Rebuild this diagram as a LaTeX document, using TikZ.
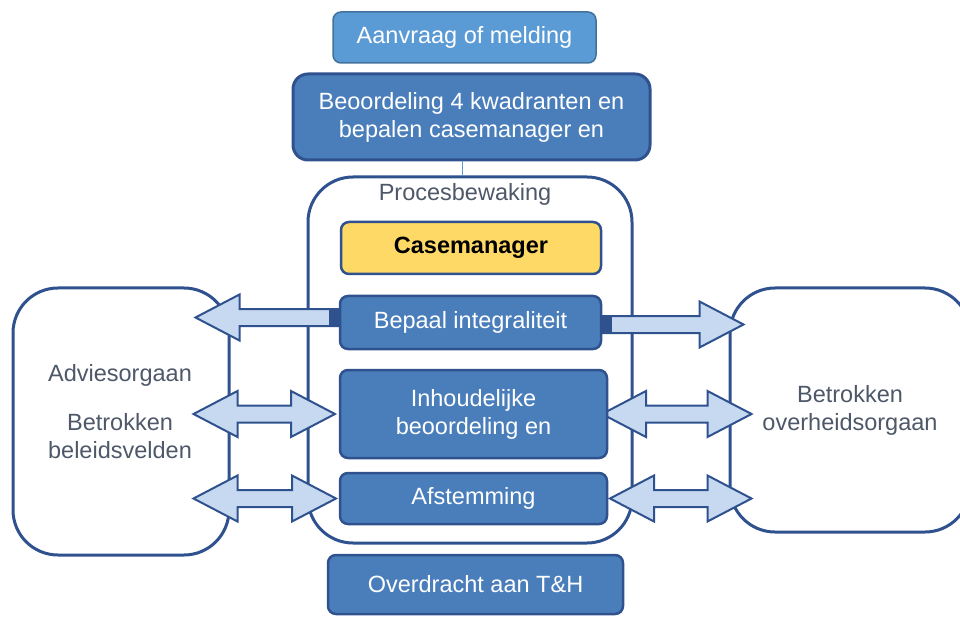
\documentclass[tikz,border=0pt]{standalone}
\usepackage{fontspec}
\setmainfont{Liberation Sans}
\usepackage{tikz}
\usetikzlibrary{calc}
\usetikzlibrary{positioning}

\definecolor{donkerblauw}{RGB}{47,82,143}
\definecolor{vakblauw}{RGB}{74,126,187}
\definecolor{lichtblauw}{RGB}{91,155,213}
\definecolor{randlicht}{RGB}{65,113,156}
\definecolor{pijlblauw}{RGB}{198,217,240}
\definecolor{geel}{RGB}{255,217,102}
\definecolor{grijstekst}{RGB}{78,88,104}

\newcommand{\koplengte}{44pt}
\newcommand{\kophoogte}{23pt}
\newcommand{\schacht}{8.5pt}

\tikzset{
	tekst/.style={font=\fontsize{23.5}{28}\selectfont,align=center},
	vak/.style={tekst,draw=donkerblauw,line width=2.5pt,fill=vakblauw,text=white,rounded corners=8pt,inner sep=0pt},
	kader/.style={draw=donkerblauw,line width=3pt,fill=white,rounded corners=45pt,inner sep=0pt},
	pijl/.style={draw=donkerblauw,fill=pijlblauw,line width=2pt,line join=miter},
	label/.style={tekst,text=grijstekst}
}

% enkele blokpijl: #1 staart, #2 punt
\newcommand{\enkelpijl}[2]{%
	\draw[pijl] let \p1=(#1), \p2=(#2), \p3=($(#2)!\koplengte!(#1)$) in
	(\x1,\y1+\schacht) -- (\x3,\y1+\schacht) -- (\x3,\y1+\kophoogte) -- (\x2,\y1)
	-- (\x3,\y1-\kophoogte) -- (\x3,\y1-\schacht) -- (\x1,\y1-\schacht) -- cycle;
	\fill[donkerblauw] let \p1=(#1), \p5=($(#1)!11pt!(#2)$) in
	(\x1,\y1+\schacht+1pt) rectangle (\x5,\y1-\schacht-1pt);}
% dubbele blokpijl tussen #1 en #2
\newcommand{\dubbelpijl}[2]{%
	\draw[pijl] let \p1=(#1), \p2=(#2), \p3=($(#1)!\koplengte!(#2)$), \p4=($(#2)!\koplengte!(#1)$) in
	(\x1,\y1) -- (\x3,\y1+\kophoogte) -- (\x3,\y1+\schacht) -- (\x4,\y1+\schacht) -- (\x4,\y1+\kophoogte)
	-- (\x2,\y1) -- (\x4,\y1-\kophoogte) -- (\x4,\y1-\schacht) -- (\x3,\y1-\schacht) -- (\x3,\y1-\kophoogte) -- cycle;}

\begin{document}
\begin{tikzpicture}[x=1pt,y=-1pt]
		\clip (0,0) rectangle (960,617);
		\useasboundingbox (0,0) rectangle (960,617);
		% bovenste vakken
		\node[vak,fill=lichtblauw,draw=randlicht,line width=1.5pt,minimum width=263pt,minimum height=51pt] (aanvraag) at (464.5,37.5) {Aanvraag of melding};
		\node[vak,line width=3pt,rounded corners=15pt,minimum width=357pt,minimum height=86pt] (beoordeling) at (471.5,117) {Beoordeling 4 kwadranten en\\bepalen casemanager en};
		% procesbewaking
		\node[kader,minimum width=324pt,minimum height=366pt] (proces) at (470,360) {};
		\draw[lichtblauw,line width=1pt] (beoordeling.south -| 462,0) -- (proces.north -| 462,0);
		\node[label] (proceslabel) at (465,194) {Procesbewaking};
		% zijvakken
		\node[kader,minimum width=216pt,minimum height=267pt] (advies) at (121,421.5) {};
		\node[label] (adviestekst) at (120,375) {Adviesorgaan};
		\node[label] (beleidtekst) at (120,436) {Betrokken\\beleidsvelden};
		\node[kader,label,minimum width=240pt,minimum height=244pt] (overheid) at (850,410) {Betrokken\\overheidsorgaan};
		% posities van de vakken in het kader
		\coordinate (pbepaal) at (470.5,322.5);
		\coordinate (pinh) at (473.5,414);
		\coordinate (pafst) at (473.5,498.5);
		\coordinate (kl) at (340,0);
		\coordinate (kr1) at (601,0);
		\coordinate (kr2) at (607,0);
		% pijlen
		\coordinate (t1) at ($(kl |- pbepaal)+(0,-5)$);
		\coordinate (p1) at ($(advies.east |- pbepaal)+(-35,-5)$);
		\enkelpijl{t1}{p1}
		\coordinate (t2) at ($(kr1 |- pbepaal)+(0,2)$);
		\coordinate (p2) at ($(overheid.west |- pbepaal)+(15,2)$);
		\enkelpijl{t2}{p2}
		\coordinate (a1) at ($(advies.east |- pinh)+(-37,0)$);
		\coordinate (b1) at ($(kl |- pinh)+(-5,0)$);
		\dubbelpijl{a1}{b1}
		\coordinate (a2) at ($(advies.east |- pafst)+(-37,0)$);
		\coordinate (b2) at ($(kl |- pafst)+(-4,0)$);
		\dubbelpijl{a2}{b2}
		\coordinate (c1) at ($(kr2 |- pinh)+(-5,0)$);
		\coordinate (d1) at ($(overheid.west |- pinh)+(23,0)$);
		\dubbelpijl{c1}{d1}
		\coordinate (c2) at ($(kr2 |- pafst)+(3,0)$);
		\coordinate (d2) at ($(overheid.west |- pafst)+(23,0)$);
		\dubbelpijl{c2}{d2}
		% vakken in het kader
		\node[vak,fill=geel,text=black,font=\fontsize{23.5}{28}\selectfont\bfseries,minimum width=260pt,minimum height=52pt] (casemanager) at (471,248) {Casemanager};
		\node[vak,minimum width=261pt,minimum height=53pt] (bepaal) at (pbepaal) {Bepaal integraliteit};
		\node[vak,minimum width=267pt,minimum height=88pt] (inhoud) at (pinh) {Inhoudelijke\\beoordeling en};
		\node[vak,minimum width=267pt,minimum height=51pt] (afstemming) at (pafst) {Afstemming};
		\node[vak,minimum width=295pt,minimum height=59pt] (overdracht) at (475.5,584.5) {Overdracht aan T\&H};
	\end{tikzpicture}
\end{document}
